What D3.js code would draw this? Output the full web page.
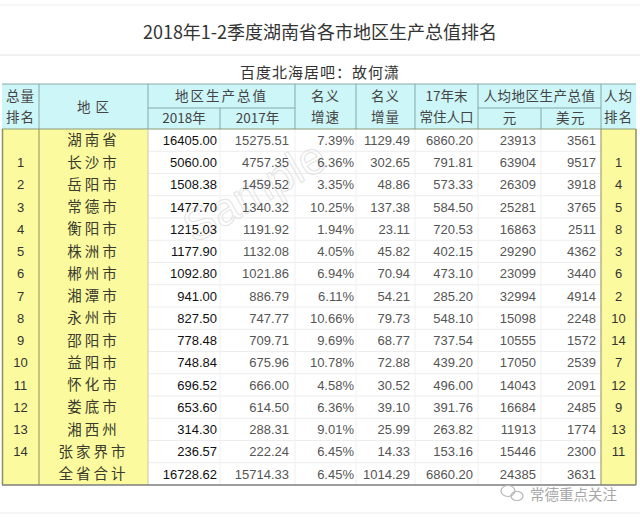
<!DOCTYPE html>
<html>
<head>
<meta charset="utf-8">
<script src="https://cdn.jsdelivr.net/npm/d3@7"></script>
<style>
  body { margin: 0; background: #fff; }
  svg { display: block; }
</style>
</head>
<body>
<div id="chart"></div>
<script>
// ---- data ----
const regions = ['湖南省', '长沙市', '岳阳市', '常德市', '衡阳市', '株洲市', '郴州市', '湘潭市',
  '永州市', '邵阳市', '益阳市', '怀化市', '娄底市', '湘西州', '张家界市', '全省合计'];
const totalRank = ['', 1, 2, 3, 4, 5, 6, 7, 8, 9, 10, 11, 12, 13, 14, ''];
const gdp2018 = [16405.00, 5060.00, 1508.38, 1477.70, 1215.03, 1177.90, 1092.80, 941.00,
  827.50, 778.48, 748.84, 696.52, 653.60, 314.30, 236.57, 16728.62];
const gdp2017 = [15275.51, 4757.35, 1459.52, 1340.32, 1191.92, 1132.08, 1021.86, 886.79,
  747.77, 709.71, 675.96, 666.00, 614.50, 288.31, 222.24, 15714.33];
const growthRate = [7.39, 6.36, 3.35, 10.25, 1.94, 4.05, 6.94, 6.11,
  10.66, 9.69, 10.78, 4.58, 6.36, 9.01, 6.45, 6.45];
const growthAmt = [1129.49, 302.65, 48.86, 137.38, 23.11, 45.82, 70.94, 54.21,
  79.73, 68.77, 72.88, 30.52, 39.10, 25.99, 14.33, 1014.29];
const population = [6860.20, 791.81, 573.33, 584.50, 720.53, 402.15, 473.10, 285.20,
  548.10, 737.54, 439.20, 496.00, 391.76, 263.82, 153.16, 6860.20];
const perCapitaYuan = [23913, 63904, 26309, 25281, 16863, 29290, 23099, 32994,
  15098, 10555, 17050, 14043, 16684, 11913, 15446, 24385];
const perCapitaUsd = [3561, 9517, 3918, 3765, 2511, 4362, 3440, 4914,
  2248, 1572, 2539, 2091, 2485, 1774, 2300, 3631];
const perCapitaRank = ['', 1, 4, 5, 8, 3, 6, 2, 10, 14, 7, 12, 9, 13, 11, ''];

const title = '2018年1-2季度湖南省各市地区生产总值排名';
const subtitle = '百度北海居吧：故何潇';

// ---- layout ----
const width = 640, height = 517;
const colEdges = [2, 39, 148, 220, 295, 356, 415, 478, 541, 601, 636];
const headTop = 84, headMid = 108, headBottom = 129, bodyBottom = 485;

const cjk = '"Noto Sans CJK SC", sans-serif';
const num = '"Liberation Sans", Arial, sans-serif';
const yellow = '#fbfa9e';
const cyan = '#cdf6f8';

const svg = d3.select('#chart').append('svg')
  .attr('width', width).attr('height', height);

// title block
svg.append('line').attr('x1', 0).attr('x2', width).attr('y1', 5).attr('y2', 5)
  .attr('stroke', '#ececec');
svg.append('line').attr('x1', 0).attr('x2', width).attr('y1', 55).attr('y2', 55)
  .attr('stroke', '#e4e4e4');
svg.append('line').attr('x1', 0).attr('x2', width).attr('y1', 513).attr('y2', 513)
  .attr('stroke', '#ececec');

svg.append('text').attr('x', 320).attr('y', 39)
  .attr('text-anchor', 'middle').attr('font-family', cjk).attr('font-size', 18)
  .attr('fill', '#333').text(title);
svg.append('text').attr('x', 320).attr('y', 78)
  .attr('text-anchor', 'middle').attr('font-family', cjk).attr('font-size', 15)
  .attr('letter-spacing', 1).attr('fill', '#333').text(subtitle);

// row scale
const y = d3.scaleBand()
  .domain(d3.range(regions.length))
  .range([headBottom, bodyBottom]);

// column x helpers
const cx = i => (colEdges[i] + colEdges[i + 1]) / 2;

// ---- body backgrounds ----
const body = svg.append('g');
body.append('rect').attr('x', colEdges[0]).attr('y', headBottom)
  .attr('width', colEdges[2] - colEdges[0]).attr('height', bodyBottom - headBottom)
  .attr('fill', yellow);
body.append('rect').attr('x', colEdges[9]).attr('y', headBottom)
  .attr('width', colEdges[10] - colEdges[9]).attr('height', bodyBottom - headBottom)
  .attr('fill', yellow);

// grid lines in data area
body.selectAll('.hline')
  .data(d3.range(1, regions.length))
  .join('line')
  .attr('class', 'hline')
  .attr('x1', colEdges[2]).attr('x2', colEdges[9])
  .attr('y1', d => y(d)).attr('y2', d => y(d))
  .attr('stroke', '#ededed');
body.selectAll('.vline')
  .data(d3.range(3, 9))
  .join('line')
  .attr('class', 'vline')
  .attr('x1', d => colEdges[d]).attr('x2', d => colEdges[d])
  .attr('y1', headBottom).attr('y2', bodyBottom)
  .attr('stroke', '#f0f0f0');

// watermark
svg.append('text')
  .attr('transform', 'translate(262,205) rotate(-30)')
  .attr('text-anchor', 'middle')
  .attr('font-family', num).attr('font-size', 46)
  .attr('fill', 'none').attr('stroke', '#e4e4e4').attr('stroke-width', 1)
  .text('Sample');

// ---- header ----
const head = svg.append('g');
head.append('rect').attr('x', colEdges[0]).attr('y', headTop)
  .attr('width', colEdges[10] - colEdges[0]).attr('height', headBottom - headTop)
  .attr('fill', cyan);

const headLine = '#86a9a9';
// vertical lines in header (full height)
[1, 2, 4, 5, 6, 7, 9].forEach(i => {
  head.append('line').attr('x1', colEdges[i]).attr('x2', colEdges[i])
    .attr('y1', headTop).attr('y2', headBottom).attr('stroke', headLine);
});
// split-cell verticals
[3, 8].forEach(i => {
  head.append('line').attr('x1', colEdges[i]).attr('x2', colEdges[i])
    .attr('y1', headMid).attr('y2', headBottom).attr('stroke', headLine);
});
// split-cell horizontals
[[2, 4], [7, 9]].forEach(([a, b]) => {
  head.append('line').attr('x1', colEdges[a]).attr('x2', colEdges[b])
    .attr('y1', headMid).attr('y2', headMid).attr('stroke', headLine);
});
head.append('line').attr('x1', colEdges[0]).attr('x2', colEdges[10])
  .attr('y1', headTop).attr('y2', headTop).attr('stroke', headLine);
head.append('line').attr('x1', colEdges[0]).attr('x2', colEdges[10])
  .attr('y1', headBottom).attr('y2', headBottom).attr('stroke', '#8a9a7a');

const headLabels = [
  { x: cx(0), lines: ['总量', '排名'] },
  { x: cx(1), lines: ['地 区'] },
  { x: cx(4), lines: ['名义', '增速'] },
  { x: cx(5), lines: ['名义', '增量'] },
  { x: cx(6), lines: ['17年末', '常住人口'] },
  { x: cx(9), lines: ['人均', '排名'] }
];
headLabels.forEach(h => {
  const n = h.lines.length;
  h.lines.forEach((t, k) => {
    head.append('text')
      .attr('x', h.x)
      .attr('y', n === 1 ? 112 : 101 + k * 21)
      .attr('text-anchor', 'middle')
      .attr('font-family', cjk).attr('font-size', 13.5)
      .attr('letter-spacing', t.length > 3 ? 0 : 1)
      .attr('fill', '#444').text(t);
  });
});
[
  { x: (colEdges[2] + colEdges[4]) / 2, y: 101, t: '地区生产总值', ls: 2 },
  { x: (colEdges[7] + colEdges[9]) / 2, y: 101, t: '人均地区生产总值', ls: 0.5 },
  { x: cx(2), y: 123, t: '2018年', ls: 0 },
  { x: cx(3), y: 123, t: '2017年', ls: 0 },
  { x: cx(7), y: 123, t: '元', ls: 0 },
  { x: cx(8), y: 123, t: '美元', ls: 1.5 }
].forEach(h => {
  head.append('text').attr('x', h.x).attr('y', h.y)
    .attr('text-anchor', 'middle').attr('font-family', cjk).attr('font-size', 13.5)
    .attr('letter-spacing', h.ls).attr('fill', '#444').text(h.t);
});

// ---- cells ----
const fmt2 = d3.format('.2f');
const columns = [
  { i: 0, vals: totalRank, anchor: 'middle', font: num, color: '#333' },
  { i: 1, vals: regions, anchor: 'middle', font: cjk, color: '#3a3a2e' },
  { i: 2, vals: gdp2018.map(fmt2), anchor: 'end', font: num, color: '#111', pad: 3 },
  { i: 3, vals: gdp2017.map(fmt2), anchor: 'end', font: num, color: '#555', pad: 6 },
  { i: 4, vals: growthRate.map(d => fmt2(d) + '%'), anchor: 'end', font: num, color: '#555', pad: 2 },
  { i: 5, vals: growthAmt.map(fmt2), anchor: 'end', font: num, color: '#555', pad: 5 },
  { i: 6, vals: population.map(fmt2), anchor: 'end', font: num, color: '#555', pad: 5 },
  { i: 7, vals: perCapitaYuan, anchor: 'end', font: num, color: '#555', pad: 5 },
  { i: 8, vals: perCapitaUsd, anchor: 'end', font: num, color: '#555', pad: 5 },
  { i: 9, vals: perCapitaRank, anchor: 'middle', font: num, color: '#333' }
];

const cells = svg.append('g');
columns.forEach(c => {
  const xPos = c.anchor === 'end' ? colEdges[c.i + 1] - c.pad : cx(c.i);
  cells.selectAll(null)
    .data(c.vals)
    .join('text')
    .attr('x', xPos)
    .attr('y', (d, r) => y(r) + y.bandwidth() / 2)
    .attr('dy', '0.36em')
    .attr('text-anchor', c.anchor)
    .attr('font-family', c.font)
    .attr('font-size', c.font === cjk ? 14.5 : 13)
    .attr('letter-spacing', c.font === cjk ? 3 : 0)
    .attr('fill', c.color)
    .text(d => d);
});

// borders of the yellow columns and table bottom
const border = '#8f8f60';
[0, 1, 2].forEach(i => {
  const xx = colEdges[i] + (i === 0 ? 0.5 : 0);
  svg.append('line').attr('x1', xx).attr('x2', xx)
    .attr('y1', headBottom).attr('y2', bodyBottom)
    .attr('stroke', i === 2 ? '#c9c9a6' : border).attr('stroke-width', i === 0 ? 1.5 : 1);
});
[9, 10].forEach(i => {
  svg.append('line').attr('x1', colEdges[i]).attr('x2', colEdges[i])
    .attr('y1', headBottom).attr('y2', bodyBottom)
    .attr('stroke', border).attr('stroke-width', i === 10 ? 1.5 : 1);
});
svg.append('line').attr('x1', colEdges[0]).attr('x2', colEdges[10])
  .attr('y1', bodyBottom).attr('y2', bodyBottom)
  .attr('stroke', '#7d7d7d').attr('stroke-width', 1.5);

// wechat mark bottom right
const wm = svg.append('g').attr('fill', 'none').attr('stroke', '#b5b5b5').attr('stroke-width', 1.2);
wm.append('ellipse').attr('cx', 508).attr('cy', 491).attr('rx', 7).attr('ry', 5.5);
wm.append('ellipse').attr('cx', 517).attr('cy', 496).attr('rx', 6).attr('ry', 4.5);
svg.append('text').attr('x', 530).attr('y', 500)
  .attr('font-family', cjk).attr('font-size', 14.5)
  .attr('fill', '#a8a8a8')
  .text('常德重点关注');
</script>
</body>
</html>
